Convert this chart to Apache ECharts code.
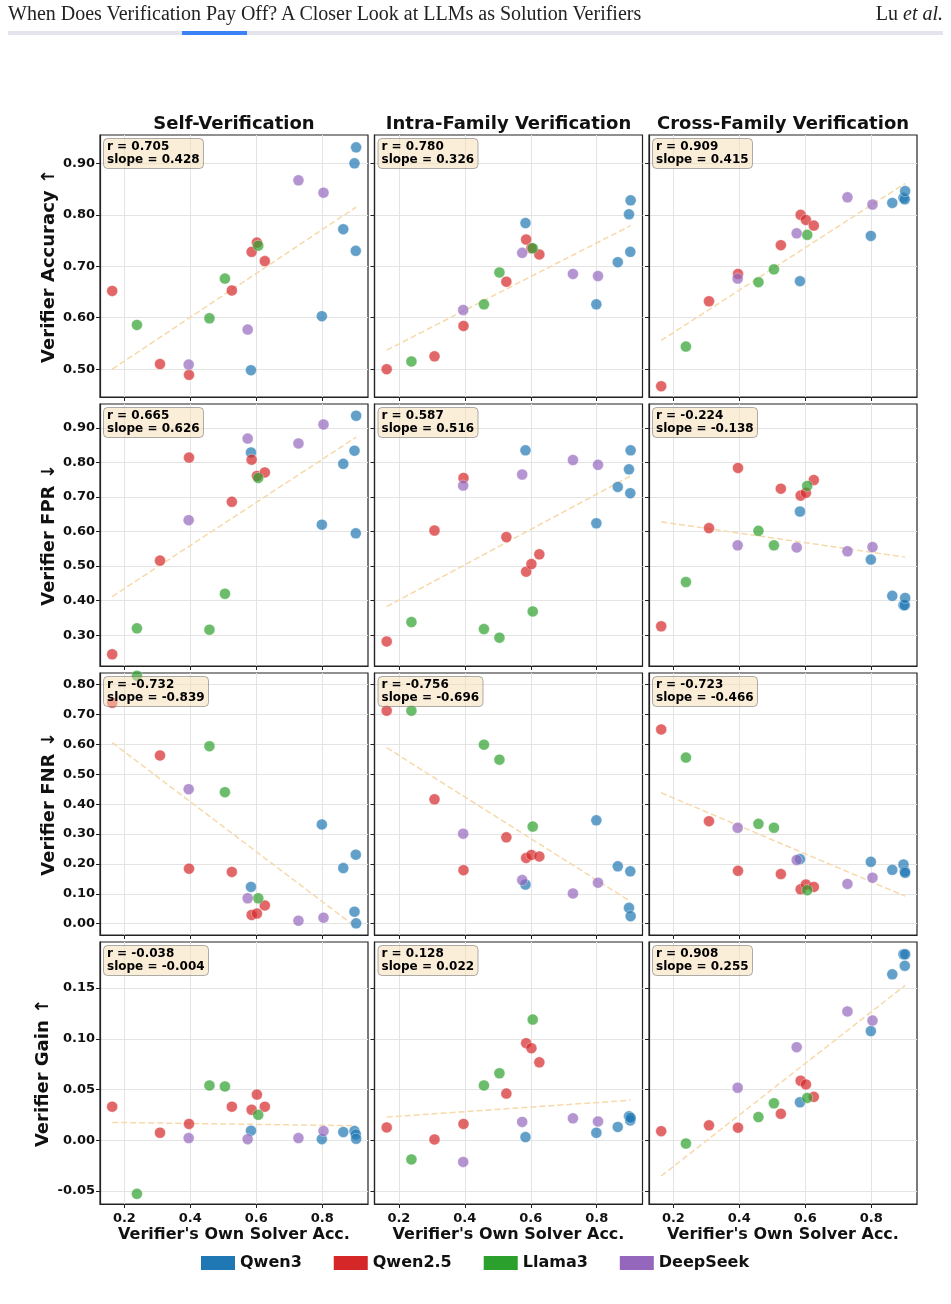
<!DOCTYPE html>
<html>
<head>
<meta charset="utf-8">
<script src="https://cdn.jsdelivr.net/npm/echarts@6/dist/echarts.min.js"></script>
<style>
  body { margin: 0; background: #fff; }
  #page { position: relative; width: 951px; height: 1304px; overflow: hidden; }
  #chart { position: absolute; left: 0; top: 0; width: 951px; height: 1304px; }
  .hdr { position: absolute; top: 3px; font-family: 'Liberation Serif', 'DejaVu Serif', serif; font-size: 20px; line-height: 20px; color: #222; white-space: nowrap; z-index: 2; }
  #bar { position: absolute; left: 8px; top: 31px; width: 935px; height: 4px; background: #e3e4ec; z-index: 2; }
  #barBlue { position: absolute; left: 174px; top: 0; width: 65px; height: 4px; background: #3b82f6; }
</style>
</head>
<body>
<div id="page">
  <div id="chart"></div>
  <div class="hdr" style="left:8px;">When Does Verification Pay Off? A Closer Look at LLMs as Solution Verifiers</div>
  <div class="hdr" style="right:8px;">Lu <i>et al.</i></div>
  <div id="bar"><div id="barBlue"></div></div>
</div>
<script>
// model families (order: Qwen3 x6, Qwen2.5 x7, Llama3 x4, DeepSeek x4)
const familyNames = ['Qwen3', 'Qwen2.5', 'Llama3', 'DeepSeek'];
const familyColors = ['#1f77b4', '#d62728', '#2ca02c', '#9467bd'];
const modelFamily = [0, 0, 0, 0, 0, 0, 1, 1, 1, 1, 1, 1, 1, 2, 2, 2, 2, 3, 3, 3, 3];
const solverAcc = [0.584, 0.799, 0.864, 0.898, 0.902, 0.903,
  0.163, 0.308, 0.396, 0.526, 0.586, 0.602, 0.626,
  0.238, 0.458, 0.505, 0.606,
  0.395, 0.574, 0.728, 0.804];

// verifier accuracy
const selfAcc = [0.498, 0.603, 0.772, 0.900, 0.730, 0.931,
  0.652, 0.510, 0.489, 0.653, 0.728, 0.746, 0.710,
  0.586, 0.599, 0.676, 0.740,
  0.509, 0.577, 0.867, 0.843];
const intraAcc = [0.784, 0.626, 0.708, 0.801, 0.728, 0.828,
  0.500, 0.525, 0.584, 0.670, 0.752, 0.735, 0.723,
  0.515, 0.626, 0.688, 0.735,
  0.615, 0.726, 0.685, 0.681];
const crossAcc = [0.671, 0.759, 0.823, 0.833, 0.830, 0.846,
  0.467, 0.632, 0.685, 0.741, 0.800, 0.790, 0.779,
  0.544, 0.669, 0.694, 0.761,
  0.676, 0.764, 0.834, 0.820];

// verifier FPR
const selfFpr = [0.829, 0.620, 0.796, 0.834, 0.595, 0.935,
  0.245, 0.516, 0.814, 0.686, 0.808, 0.761, 0.771,
  0.320, 0.316, 0.420, 0.755,
  0.633, 0.869, 0.855, 0.910];
const intraFpr = [0.835, 0.624, 0.729, 0.780, 0.711, 0.835,
  0.282, 0.603, 0.755, 0.584, 0.484, 0.506, 0.534,
  0.338, 0.318, 0.293, 0.369,
  0.733, 0.765, 0.807, 0.793];
const crossFpr = [0.658, 0.519, 0.414, 0.387, 0.387, 0.408,
  0.326, 0.610, 0.784, 0.724, 0.704, 0.712, 0.749,
  0.454, 0.602, 0.560, 0.732,
  0.560, 0.554, 0.543, 0.555];

// verifier FNR
const selfFnr = [0.123, 0.332, 0.186, 0.040, 0.231, 0.001,
  0.739, 0.563, 0.184, 0.173, 0.029, 0.034, 0.061,
  0.830, 0.594, 0.440, 0.085,
  0.450, 0.085, 0.010, 0.020];
const intraFnr = [0.131, 0.346, 0.192, 0.053, 0.175, 0.025,
  0.713, 0.416, 0.179, 0.289, 0.220, 0.230, 0.225,
  0.713, 0.599, 0.549, 0.325,
  0.301, 0.146, 0.101, 0.137];
const crossFnr = [0.216, 0.207, 0.180, 0.198, 0.175, 0.170,
  0.650, 0.343, 0.177, 0.166, 0.115, 0.131, 0.123,
  0.556, 0.334, 0.321, 0.112,
  0.321, 0.213, 0.133, 0.154];

// verifier gain
const selfGain = [0.0093, 0.001, 0.008, 0.009, 0.0056, 0.0013,
  0.033, 0.0073, 0.016, 0.033, 0.030, 0.045, 0.033,
  -0.053, 0.054, 0.053, 0.025,
  0.002, 0.001, 0.002, 0.009];
const intraGain = [0.003, 0.0073, 0.013, 0.0235, 0.0195, 0.022,
  0.0126, 0.0007, 0.016, 0.046, 0.0957, 0.0907, 0.0768,
  -0.019, 0.054, 0.066, 0.119,
  -0.0215, 0.018, 0.0215, 0.0185];
const crossGain = [0.0374, 0.1076, 0.1636, 0.1834, 0.172, 0.1834,
  0.0089, 0.0146, 0.0123, 0.026, 0.0586, 0.055, 0.0427,
  -0.0033, 0.0228, 0.0364, 0.0417,
  0.0517, 0.0917, 0.127, 0.118];

const panelValues = [
  selfAcc, intraAcc, crossAcc,
  selfFpr, intraFpr, crossFpr,
  selfFnr, intraFnr, crossFnr,
  selfGain, intraGain, crossGain,
];
const statR = ['0.705', '0.780', '0.909', '0.665', '0.587', '-0.224',
  '-0.732', '-0.756', '-0.723', '-0.038', '0.128', '0.908'];
const statSlope = ['0.428', '0.326', '0.415', '0.626', '0.516', '-0.138',
  '-0.839', '-0.696', '-0.466', '-0.004', '0.022', '0.255'];
// fitted line end values at min / max solver accuracy
const trendStart = [0.500, 0.537, 0.556, 0.412, 0.383, 0.628, 0.606, 0.589, 0.438, 0.0175, 0.0228, -0.0354];
const trendEnd = [0.815, 0.779, 0.861, 0.873, 0.761, 0.526, -0.012, 0.074, 0.092, 0.0142, 0.0394, 0.1527];

const colTitles = ['Self-Verification', 'Intra-Family Verification', 'Cross-Family Verification'];
const rowTitles = ['Verifier Accuracy \u2191', 'Verifier FPR \u2193', 'Verifier FNR \u2193', 'Verifier Gain \u2191'];
const xTicks = [0.2, 0.4, 0.6, 0.8];
const xRange = [0.126, 0.939];
const yRanges = [[0.446, 0.955], [0.211, 0.969], [-0.038, 0.839], [-0.063, 0.1955]];
const yTicks = [
  [0.5, 0.6, 0.7, 0.8, 0.9],
  [0.3, 0.4, 0.5, 0.6, 0.7, 0.8, 0.9],
  [0, 0.1, 0.2, 0.3, 0.4, 0.5, 0.6, 0.7, 0.8],
  [-0.05, 0, 0.05, 0.1, 0.15],
];

const FONT = 'DejaVu Sans';
const gridLeft = [100, 374.5, 649];
const gridTop = [135, 404, 673, 942];
const GW = 268;
const GH = 262;

const chart = echarts.init(document.getElementById('chart'));

const grids = [];
const xAxes = [];
const yAxes = [];
const series = [];
const titles = [];
const graphics = [];

for (let r = 0; r < 4; r++) {
  for (let c = 0; c < 3; c++) {
    const p = r * 3 + c;
    grids.push({
      left: gridLeft[c], top: gridTop[r], width: GW, height: GH,
      show: true, borderColor: '#222', borderWidth: 1.2,
    });
    xAxes.push({
      type: 'value', gridIndex: p, min: xRange[0], max: xRange[1],
      axisLine: { show: true, onZero: false, lineStyle: { color: '#222', width: 1.2 } },
      axisTick: { show: true, length: 4, customValues: xTicks, lineStyle: { color: '#222' } },
      axisLabel: {
        show: r === 3, customValues: xTicks, margin: 8,
        formatter: (v) => v.toFixed(1),
        color: '#111', fontFamily: FONT, fontWeight: 'bold', fontSize: 13,
      },
      splitLine: { show: true, lineStyle: { color: '#e4e4e4', width: 1 } },
    });
    yAxes.push({
      type: 'value', gridIndex: p, min: yRanges[r][0], max: yRanges[r][1],
      axisLine: { show: true, onZero: false, lineStyle: { color: '#222', width: 1.2 } },
      axisTick: { show: true, length: 4, customValues: yTicks[r], lineStyle: { color: '#222' } },
      axisLabel: {
        show: c === 0, customValues: yTicks[r], margin: 5,
        formatter: (v) => v.toFixed(2),
        color: '#111', fontFamily: FONT, fontWeight: 'bold', fontSize: 13,
      },
      splitLine: { show: true, lineStyle: { color: '#e4e4e4', width: 1 } },
    });

    // trend line
    series.push({
      type: 'line', xAxisIndex: p, yAxisIndex: p, silent: true,
      symbol: 'none', z: 1,
      lineStyle: { color: '#f7d9aa', width: 1.5, type: [6, 3] },
      data: [[0.163, trendStart[p]], [0.903, trendEnd[p]]],
    });

    familyNames.forEach((name, f) => {
      const pts = [];
      solverAcc.forEach((x, i) => {
        if (modelFamily[i] === f) pts.push([x, panelValues[p][i]]);
      });
      series.push({
        type: 'scatter', name, xAxisIndex: p, yAxisIndex: p,
        symbolSize: 11, z: 2 + f,
        itemStyle: { color: familyColors[f], opacity: 0.7, borderColor: '#fff', borderWidth: 0.5 },
        data: pts,
      });
    });

    titles.push({
      text: 'r = ' + statR[p] + '\nslope = ' + statSlope[p],
      left: gridLeft[c] + 3, top: gridTop[r] + 3,
      padding: [2, 4, 2, 4],
      backgroundColor: 'rgba(245,222,179,0.5)',
      borderColor: 'rgba(120,120,120,0.6)', borderWidth: 1, borderRadius: 4,
      textStyle: { fontFamily: FONT, fontWeight: 'bold', fontSize: 12, color: '#000', lineHeight: 13.5 },
    });
  }
}

colTitles.forEach((t, c) => {
  graphics.push({
    type: 'text', x: gridLeft[c] + GW / 2, y: 124,
    style: { text: t, align: 'center', verticalAlign: 'middle', fill: '#111',
      font: 'bold 18px "DejaVu Sans"' },
  });
  graphics.push({
    type: 'text', x: gridLeft[c] + GW / 2, y: 1235,
    style: { text: "Verifier's Own Solver Acc.", align: 'center', verticalAlign: 'middle', fill: '#111',
      font: 'bold 16px "DejaVu Sans"' },
  });
});
rowTitles.forEach((t, r) => {
  graphics.push({
    type: 'text', x: r === 3 ? 43 : 49, y: gridTop[r] + GH / 2, rotation: Math.PI / 2,
    style: { text: t, align: 'center', verticalAlign: 'middle', fill: '#111',
      font: 'bold 18px "DejaVu Sans"' },
  });
});

const option = {
  animation: false,
  title: titles,
  grid: grids,
  xAxis: xAxes,
  yAxis: yAxes,
  series,
  graphic: graphics,
  legend: {
    left: 196, top: 1250, icon: 'rect', itemWidth: 34, itemHeight: 14, itemGap: 32,
    textStyle: { fontFamily: FONT, fontWeight: 'bold', fontSize: 16, color: '#111' },
    data: familyNames.map((n, f) => ({ name: n, itemStyle: { color: familyColors[f], opacity: 1, borderWidth: 0 } })),
  },
};
chart.setOption(option);
</script>
</body>
</html>
